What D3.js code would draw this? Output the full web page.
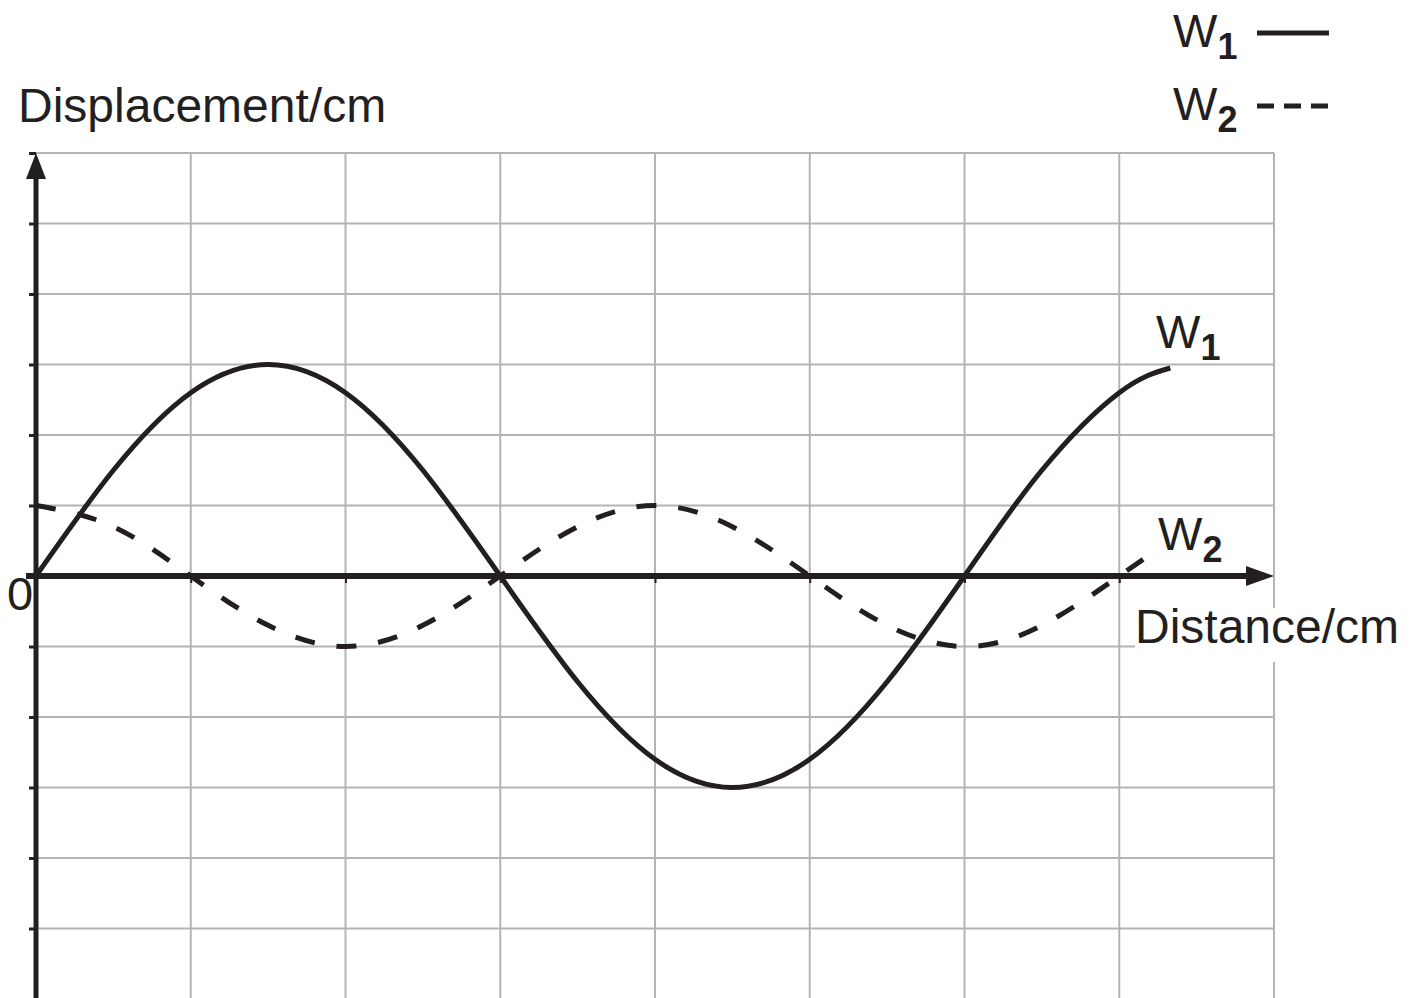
<!DOCTYPE html>
<html>
<head>
<meta charset="utf-8">
<script src="https://cdn.jsdelivr.net/npm/d3@7"></script>
<style>
  body { margin: 0; background: #fff; }
  svg { display: block; font-family: "Liberation Sans", Arial, sans-serif; }
</style>
</head>
<body>
<script>
const width = 1416;
const height = 998;

// distance in grid squares, displacement in grid squares
const w1Distance = [0, 0.5, 1, 1.5, 2, 2.5, 3, 3.5, 4, 4.5, 5, 5.5, 6, 6.5, 7, 7.33];
const w1Displacement = [0, 1.5, 2.6, 3, 2.6, 1.5, 0, -1.5, -2.6, -3, -2.6, -1.5, 0, 1.5, 2.6, 2.95];

const w2Distance = [0, 0.5, 1, 1.5, 2, 2.5, 3, 3.5, 4, 4.5, 5, 5.5, 6, 6.5, 7, 7.25];
const w2Displacement = [1, 0.7, 0, -0.7, -1, -0.7, 0, 0.7, 1, 0.7, 0, -0.7, -1, -0.7, 0, 0.38];

const xGridValues = [1, 2, 3, 4, 5, 6, 7, 8];
const yGridValues = [-5, -4, -3, -2, -1, 1, 2, 3, 4, 5, 6];

const svg = d3.select("body")
    .append("svg")
    .attr("width", width)
    .attr("height", height);

const xScale = d3.scaleLinear()
    .domain([0, 8])
    .range([36, 1274]);

const yScale = d3.scaleLinear()
    .domain([-6, 6])
    .range([999, 153]);

// grid
const grid = svg.append("g")
    .attr("stroke", "#b3b3b3")
    .attr("stroke-width", 2);

grid.selectAll(".vgrid")
    .data(xGridValues)
    .enter()
    .append("line")
    .attr("class", "vgrid")
    .attr("x1", d => xScale(d))
    .attr("x2", d => xScale(d))
    .attr("y1", yScale(6))
    .attr("y2", height);

grid.selectAll(".hgrid")
    .data(yGridValues)
    .enter()
    .append("line")
    .attr("class", "hgrid")
    .attr("x1", xScale(0))
    .attr("x2", xScale(8))
    .attr("y1", d => yScale(d))
    .attr("y2", d => yScale(d));

// white box behind the distance label
svg.append("rect")
    .attr("x", 1135)
    .attr("y", 608)
    .attr("width", 270)
    .attr("height", 54)
    .attr("fill", "#fff");

// small tick marks
const yTicks = svg.append("g")
    .attr("transform", "translate(" + xScale(0) + ",0)")
    .call(d3.axisLeft(yScale).tickValues(yGridValues.concat([6])).tickSize(7).tickFormat(""));

const xTicks = svg.append("g")
    .attr("transform", "translate(0," + yScale(0) + ")")
    .call(d3.axisBottom(xScale).tickValues(xGridValues.slice(0, 7)).tickSize(7).tickFormat(""));

yTicks.select(".domain").remove();
xTicks.select(".domain").remove();
yTicks.selectAll("line").attr("stroke", "#222").attr("stroke-width", 3);
xTicks.selectAll("line").attr("stroke", "#222").attr("stroke-width", 2);

// curves
const line = d3.line()
    .x(d => xScale(d[0]))
    .y(d => yScale(d[1]))
    .curve(d3.curveNatural);

svg.append("path")
    .datum(d3.zip(w2Distance, w2Displacement))
    .attr("d", line)
    .attr("fill", "none")
    .attr("stroke", "#231f20")
    .attr("stroke-width", 5)
    .attr("stroke-dasharray", "20,22");

svg.append("path")
    .datum(d3.zip(w1Distance, w1Displacement))
    .attr("d", line)
    .attr("fill", "none")
    .attr("stroke", "#231f20")
    .attr("stroke-width", 5);

// axes with arrows
svg.append("line")
    .attr("x1", xScale(0))
    .attr("x2", xScale(0))
    .attr("y1", height)
    .attr("y2", yScale(6) + 24)
    .attr("stroke", "#231f20")
    .attr("stroke-width", 5);

svg.append("path")
    .attr("d", "M" + xScale(0) + "," + yScale(6) +
        " L" + (xScale(0) - 10) + "," + (yScale(6) + 26) +
        " L" + (xScale(0) + 10) + "," + (yScale(6) + 26) + " Z")
    .attr("fill", "#231f20");

svg.append("line")
    .attr("x1", 26)
    .attr("x2", xScale(8) - 26)
    .attr("y1", yScale(0))
    .attr("y2", yScale(0))
    .attr("stroke", "#231f20")
    .attr("stroke-width", 6);

svg.append("path")
    .attr("d", "M" + xScale(8) + "," + yScale(0) +
        " L" + (xScale(8) - 28) + "," + (yScale(0) - 10) +
        " L" + (xScale(8) - 28) + "," + (yScale(0) + 10) + " Z")
    .attr("fill", "#231f20");

// labels
const textColor = "#231f20";

svg.append("text")
    .attr("x", 18)
    .attr("y", 122)
    .attr("font-size", 48)
    .attr("fill", textColor)
    .text("Displacement/cm");

svg.append("text")
    .attr("x", 1135)
    .attr("y", 643)
    .attr("font-size", 48)
    .attr("fill", textColor)
    .text("Distance/cm");

svg.append("text")
    .attr("x", 7)
    .attr("y", 610)
    .attr("font-size", 47)
    .attr("fill", textColor)
    .text("0");

function waveLabel(x, y, sub) {
    const t = svg.append("text")
        .attr("x", x)
        .attr("y", y)
        .attr("font-size", 47)
        .attr("fill", textColor);
    t.append("tspan").text("W");
    t.append("tspan")
        .attr("dy", 12)
        .attr("font-size", 36)
        .attr("font-weight", "bold")
        .text(sub);
}

waveLabel(1173, 47, "1");
waveLabel(1173, 120, "2");
waveLabel(1156, 348, "1");
waveLabel(1158, 550, "2");

// legend lines
svg.append("line")
    .attr("x1", 1257)
    .attr("x2", 1329)
    .attr("y1", 33)
    .attr("y2", 33)
    .attr("stroke", "#231f20")
    .attr("stroke-width", 5);

svg.append("line")
    .attr("x1", 1257)
    .attr("x2", 1329)
    .attr("y1", 106)
    .attr("y2", 106)
    .attr("stroke", "#231f20")
    .attr("stroke-width", 5)
    .attr("stroke-dasharray", "17,10");
</script>
</body>
</html>
